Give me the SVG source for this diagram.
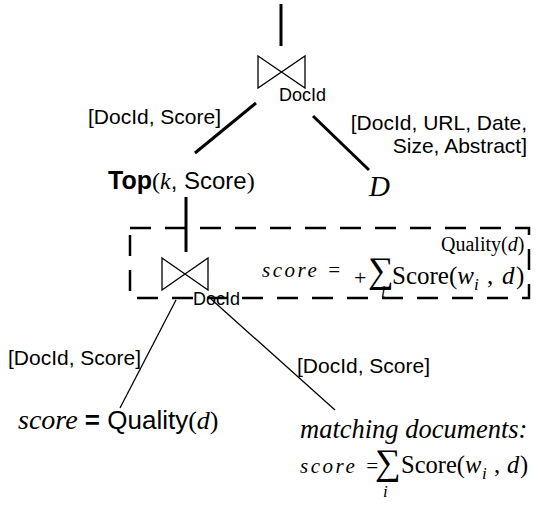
<svg xmlns="http://www.w3.org/2000/svg" width="560" height="506" viewBox="0 0 560 506">
<style>
.thick{stroke:#000;stroke-width:3;fill:none}
.thin{stroke:#000;stroke-width:1.3;fill:none}
.bow{stroke:#000;stroke-width:1.3;fill:none;stroke-linejoin:miter}
.sans{font-family:"Liberation Sans",Arial,sans-serif;fill:#000}
.serif{font-family:"Liberation Serif","Times New Roman",serif;fill:#000}
.it{font-style:italic}
.lbl{font-size:21px}
</style>
<rect width="560" height="506" fill="#fff"/>
<g id="connectors">
<line class="thick" x1="281" y1="4" x2="281" y2="46"/>
<line class="thick" x1="256" y1="103" x2="195" y2="153"/>
<line class="thick" x1="313" y1="116" x2="369" y2="170"/>
<line class="thick" x1="186" y1="197" x2="186" y2="252"/>
<line class="thin" x1="176" y1="300" x2="120" y2="408"/>
<line class="thin" x1="211" y1="299" x2="335" y2="410"/>
</g>
<g id="join-top">
<path class="bow" d="M258,56 L305,88 L305,56 L258,88 Z"/>
<text class="sans" x="279" y="101" font-size="18">DocId</text>
</g>
<g id="label-top-left">
<text class="sans lbl" x="88" y="124">[DocId, Score]</text>
</g>
<g id="label-top-right">
<text class="sans lbl" x="527" y="130" text-anchor="end">[DocId, URL, Date,</text>
<text class="sans lbl" x="527" y="153" text-anchor="end">Size, Abstract]</text>
</g>
<g id="top-k">
<text x="108" y="189" font-size="24"><tspan class="sans" font-weight="bold" font-size="25">Top</tspan><tspan class="serif">(</tspan><tspan class="serif it">k</tspan><tspan class="sans">, Score</tspan><tspan class="serif">)</tspan></text>
</g>
<g id="relation-D">
<text class="serif it" x="369" y="196" font-size="29">D</text>
</g>
<g id="quality-box">
<rect x="130" y="228" width="399" height="70" fill="none" stroke="#000" stroke-width="2.5" stroke-dasharray="21 14"/>
<text class="serif" x="441" y="251" font-size="20">Quality(<tspan class="it">d</tspan>)</text>
<text class="serif it" x="262" y="277" font-size="21" letter-spacing="2.5">score =</text>
<text class="serif" x="354" y="285" font-size="22">+</text>
<text class="serif" x="368" y="282" font-size="36">∑</text>
<text class="serif" x="392" y="284" font-size="25">Score(<tspan class="it">w</tspan></text>
<text class="serif it" x="474" y="290" font-size="17">i</text>
<text class="serif" x="487" y="284" font-size="25">,</text>
<text class="serif it" x="502" y="284" font-size="25">d</text>
<text class="serif" x="516" y="284" font-size="25">)</text>
<text class="serif it" x="381" y="297" font-size="16">i</text>
</g>
<g id="join-bottom">
<path class="bow" d="M162,258 L208,290 L208,258 L162,290 Z"/>
<text class="sans" x="193" y="305" font-size="18">DocId</text>
</g>
<g id="label-bottom-left">
<text class="sans lbl" x="8" y="365">[DocId, Score]</text>
</g>
<g id="label-bottom-right">
<text class="sans lbl" x="297" y="373">[DocId, Score]</text>
</g>
<g id="quality-input">
<text x="18" y="429"><tspan class="serif it" font-size="28">score</tspan><tspan class="sans" font-size="26" font-weight="bold"> = </tspan><tspan class="sans" font-size="26">Quality</tspan><tspan class="serif" font-size="26">(<tspan class="it">d</tspan>)</tspan></text>
</g>
<g id="matching-docs">
<text class="serif it" x="300" y="438" font-size="26.5">matching documents:</text>
<text class="serif it" x="300" y="473" font-size="21" letter-spacing="2.5">score =</text>
<text class="serif" x="375" y="474" font-size="36">∑</text>
<text class="serif" x="401" y="473" font-size="24.5">Score(<tspan class="it">w</tspan></text>
<text class="serif it" x="482" y="479" font-size="17">i</text>
<text class="serif" x="494" y="473" font-size="24.5">,</text>
<text class="serif it" x="507" y="473" font-size="24.5">d</text>
<text class="serif" x="520" y="473" font-size="24.5">)</text>
<text class="serif it" x="383" y="497" font-size="17">i</text>
</g>
</svg>
